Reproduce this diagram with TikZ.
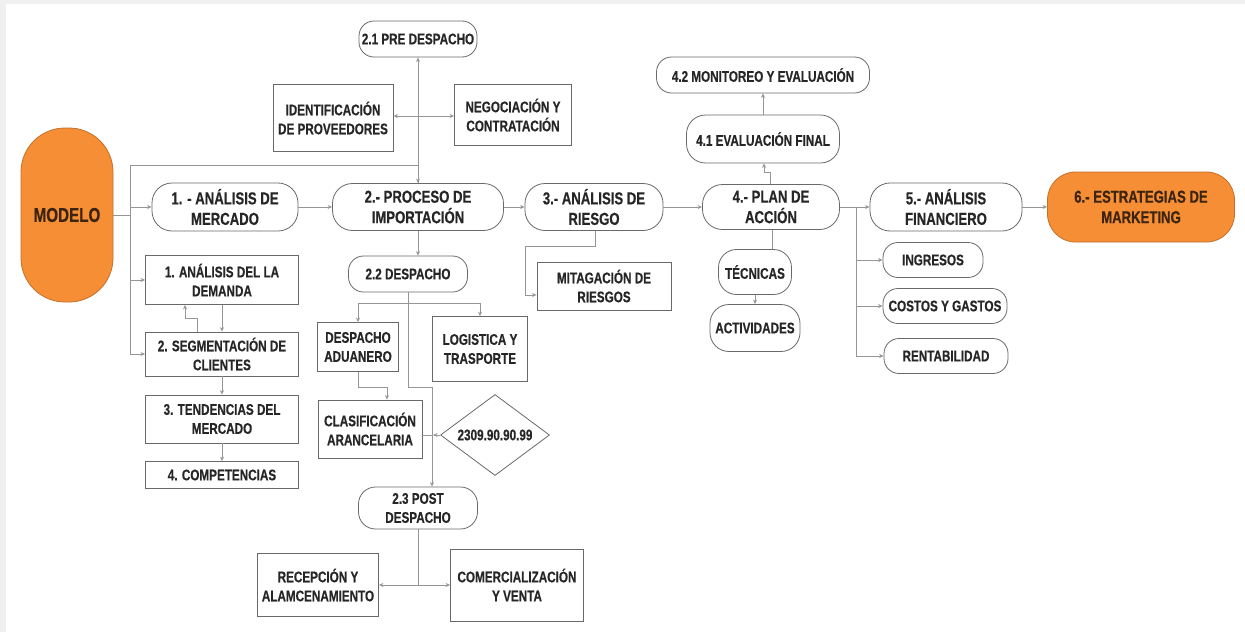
\documentclass[tikz,border=0pt]{standalone}
\usepackage{fontspec}
\setmainfont{Liberation Sans}[FakeStretch=0.76, BoldFeatures={FakeBold=0.4}]
\usetikzlibrary{arrows.meta,shapes.geometric}
\definecolor{orng}{RGB}{245,142,52}
\definecolor{orngd}{RGB}{196,112,44}
\definecolor{bord}{RGB}{105,105,105}
\definecolor{lne}{RGB}{150,150,150}
\definecolor{txt}{RGB}{38,38,38}
\definecolor{bgg}{RGB}{240,240,240}
\tikzset{
  base/.style={draw=bord, line width=0.8pt, fill=white, inner sep=0pt, align=center, text=txt,
    font=\bfseries\fontsize{15.4}{19}\selectfont},
  boxn/.style={base, rectangle},
  pill/.style={base, rectangle, rounded corners=15pt},
  mainpill/.style={base, rectangle, rounded corners=20pt, font=\bfseries\fontsize{17.3}{20.5}\selectfont},
  orangepill/.style={mainpill, fill=orng, draw=orngd, text=black!85},
  diam/.style={base, diamond, shape aspect=1.35},
  conn/.style={draw=lne, line width=0.8pt, -{Stealth[length=4.5pt,width=4pt]}},
  plain/.style={draw=lne, line width=0.8pt},
}
\begin{document}
\begin{tikzpicture}[x=1pt,y=-1pt]
\useasboundingbox (0,0) rectangle (1245,632);
\fill[bgg] (0,0) rectangle (1245,632);
\fill[white] (6,4) rectangle (1245,632);

% main row
\node[orangepill, minimum width=92pt, minimum height=174pt, rounded corners=44pt,
      font=\bfseries\fontsize{20}{23}\selectfont, text={rgb,255:red,60;green,36;blue,16}] (modelo) at (67,215) {MODELO};
\node[mainpill, minimum width=146pt, minimum height=48pt] (m1) at (225,207) {1. - ANÁLISIS DE\\MERCADO};
\node[mainpill, minimum width=171pt, minimum height=47pt] (m2) at (418,207) {2.- PROCESO DE\\IMPORTACIÓN};
\node[mainpill, minimum width=138pt, minimum height=47pt] (m3) at (594,207) {3.- ANÁLISIS DE\\RIESGO};
\node[mainpill, minimum width=137pt, minimum height=45pt] (m4) at (771,207) {4.- PLAN DE\\ACCIÓN};
\node[mainpill, minimum width=152pt, minimum height=48pt] (m5) at (946,207) {5.- ANÁLISIS\\FINANCIERO};
\node[orangepill, minimum width=187pt, minimum height=70pt, rounded corners=28pt, text={rgb,255:red,60;green,36;blue,16}] (m6) at (1141,207) {6.- ESTRATEGIAS DE\\MARKETING};

% branch 2.1
\node[pill, minimum width=118pt, minimum height=36pt] (p21) at (418,39) {2.1 PRE DESPACHO};
\node[boxn, minimum width=120pt, minimum height=67pt] (ident) at (333,118) {IDENTIFICACIÓN\\DE PROVEEDORES};
\node[boxn, minimum width=117pt, minimum height=61pt] (nego) at (513,115) {NEGOCIACIÓN Y\\CONTRATACIÓN};

% left column
\node[boxn, minimum width=153pt, minimum height=49pt] (d1) at (222,280) {1. ANÁLISIS DEL LA\\DEMANDA};
\node[boxn, minimum width=153pt, minimum height=44pt] (d2) at (222,354) {2. SEGMENTACIÓN DE\\CLIENTES};
\node[boxn, minimum width=153pt, minimum height=48pt] (d3) at (222,419) {3. TENDENCIAS DEL\\MERCADO};
\node[boxn, minimum width=153pt, minimum height=27pt] (d4) at (222,475) {4. COMPETENCIAS};

% despacho
\node[pill, minimum width=119pt, minimum height=36pt] (p22) at (408,274) {2.2 DESPACHO};
\node[boxn, minimum width=81pt, minimum height=49pt] (adu) at (358,347) {DESPACHO\\ADUANERO};
\node[boxn, minimum width=95pt, minimum height=65pt] (log) at (480,349) {LOGISTICA Y\\TRASPORTE};
\node[boxn, minimum width=104pt, minimum height=58pt] (clas) at (370,429) {CLASIFICACIÓN\\ARANCELARIA};
\node[diam, minimum width=109pt, minimum height=81pt] (dia) at (495,435) {2309.90.90.99};
\node[pill, minimum width=119pt, minimum height=42pt, rounded corners=17pt] (p23) at (418,508) {2.3 POST\\DESPACHO};
\node[boxn, minimum width=121pt, minimum height=63pt] (rec) at (318,585) {RECEPCIÓN Y\\ALAMCENAMIENTO};
\node[boxn, minimum width=133pt, minimum height=72pt] (com) at (517,585) {COMERCIALIZACIÓN\\Y VENTA};

% riesgo
\node[boxn, minimum width=134pt, minimum height=48pt] (mit) at (604,286) {MITAGACIÓN DE\\RIESGOS};

% plan
\node[pill, minimum width=153pt, minimum height=48pt, rounded corners=19pt] (p41) at (763,139) {4.1 EVALUACIÓN FINAL};
\node[pill, minimum width=213pt, minimum height=36pt] (p42) at (763,75) {4.2 MONITOREO Y EVALUACIÓN};
\node[pill, minimum width=73pt, minimum height=45pt, rounded corners=18pt] (tec) at (755,272) {TÉCNICAS};
\node[pill, minimum width=90pt, minimum height=47pt, rounded corners=19pt] (act) at (755,328) {ACTIVIDADES};

% financiero
\node[pill, minimum width=100pt, minimum height=35pt] (ing) at (933,260) {INGRESOS};
\node[pill, minimum width=124pt, minimum height=35pt] (cos) at (945,306) {COSTOS Y GASTOS};
\node[pill, minimum width=124pt, minimum height=35pt] (ren) at (946,356) {RENTABILIDAD};

% ---- connectors ----
\coordinate (jL) at (130,215);
\coordinate (jTop) at (130,165);
\draw[plain] (modelo.east) -- (jL);
\draw[plain] (jTop) -- (jL |- d2.west);
\draw[conn] (jTop) -- (jTop -| m2.north) -- (m2.north);
\draw[conn] (jL |- m1.west) -- (m1.west);
\draw[conn] (jL |- d1.west) -- (d1.west);
\draw[conn] (jL |- d2.west) -- (d2.west);

\draw[conn] (m1.east) -- (m2.west);
\draw[conn] (m2.east) -- (m3.west);
\draw[conn] (m3.east) -- (m4.west);
\draw[conn] (m5.east) -- (m6.west);

% 2.1
\draw[conn] (m2.north) -- (p21.south);
\coordinate (jB) at (418,116);
\draw[conn] (jB) -- (jB -| ident.east);
\draw[conn] (jB) -- (jB -| nego.west);

% left column
\draw[conn] (d1.south) -- (d2.north);
\coordinate (e1) at (197,318);
\coordinate (e2) at (185,318);
\draw[conn] (e1 |- d2.north) -- (e1) -- (e2) -- (e2 |- d1.south);
\draw[conn] (d2.south) -- (d3.north);
\draw[conn] (d3.south) -- (d4.north);

% despacho
\draw[conn] (m2.south) -- (m2.south |- p22.north);
\coordinate (jD) at (408,303);
\draw[plain] (p22.south) -- (jD);
\draw[conn] (jD) -- (jD -| adu.north) -- (adu.north);
\draw[conn] (jD) -- (jD -| log.north) -- (log.north);
\coordinate (jP0) at (408,387);
\coordinate (jP) at (432,387);
\draw[conn] (jD) -- (jP0) -- (jP) -- (jP |- p23.north);
\coordinate (a1) at (387,387);
\draw[conn] (adu.south) -- (adu.south |- a1) -- (a1) -- (a1 |- clas.north);
\coordinate (jC) at (433,435);
\draw[plain] (jC -| clas.east) -- (jC);
\draw[conn] (dia.west) -- (jC);

% post despacho
\coordinate (jR) at (419,585);
\draw[plain] (p23.south) -- (p23.south |- jR);
\draw[conn] (jR) -- (rec.east);
\draw[conn] (jR) -- (com.west);

% riesgo
\coordinate (r1) at (595,246);
\coordinate (r2) at (525,246);
\coordinate (r3) at (525,295);
\draw[conn] (r1 |- m3.south) -- (r1) -- (r2) -- (r3) -- (r3 -| mit.west);

% plan
\coordinate (q1) at (770,172);
\coordinate (q2) at (764,172);
\draw[conn] (q1 |- m4.north) -- (q1) -- (q2) -- (q2 |- p41.south);
\draw[conn] (p41.north) -- (p42.south);
\coordinate (q3) at (772,250);
\draw[plain] (q3 |- m4.south) -- (q3 |- tec.north);
\draw[conn] (tec.south) -- (act.north);

% financiero
\coordinate (f1) at (856,207);
\draw[plain] (m4.east) -- (f1);
\draw[conn] (f1) -- (m5.west);
\draw[plain] (f1) -- (f1 |- ren.west);
\draw[conn] (f1 |- ing.west) -- (ing.west);
\draw[conn] (f1 |- cos.west) -- (cos.west);
\draw[conn] (f1 |- ren.west) -- (ren.west);
\end{tikzpicture}
\end{document}
